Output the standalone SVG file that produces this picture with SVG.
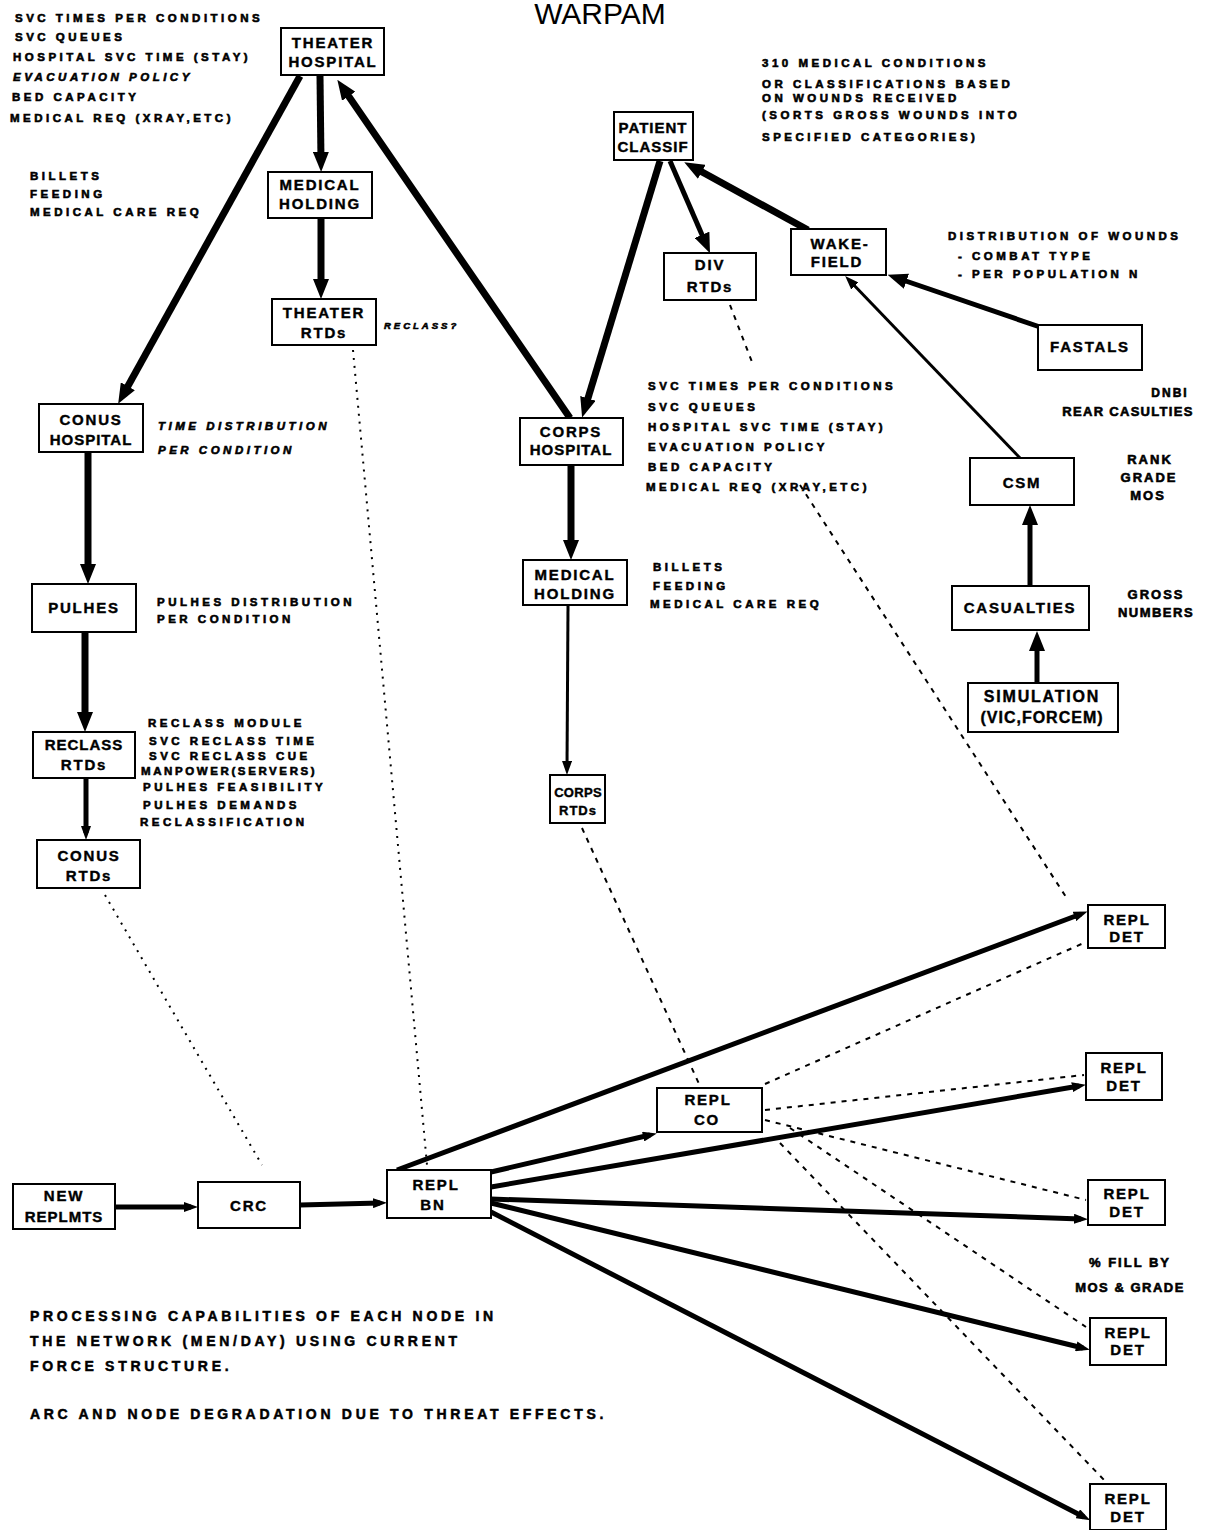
<svg xmlns="http://www.w3.org/2000/svg" width="1217" height="1530" viewBox="0 0 1217 1530">
<style>
.bg{fill:#fff}
.box{fill:#fff;stroke:#000;stroke-width:2}
.nt{font-family:"Liberation Sans",Arial,sans-serif;font-weight:bold;font-size:15px;letter-spacing:1.8px;text-anchor:middle;fill:#000;stroke:#000;stroke-width:0.4}
.an{font-family:"Liberation Sans",Arial,sans-serif;font-weight:bold;font-size:11.5px;letter-spacing:3.5px;fill:#000;stroke:#000;stroke-width:0.6}
.it{font-style:italic}
.bt{font-family:"Liberation Sans",Arial,sans-serif;font-weight:bold;font-size:14px;letter-spacing:3.7px;fill:#000;stroke:#000;stroke-width:0.5}
.title{font-family:"Liberation Sans",Arial,sans-serif;font-size:30px;text-anchor:middle;fill:#000}
.th{stroke:#000;stroke-width:7;fill:none}
.md{stroke:#000;stroke-width:5;fill:none}
.tn{stroke:#000;stroke-width:3;fill:none}
.dot{stroke:#000;stroke-width:2;fill:none;stroke-dasharray:2 6}
.dash{stroke:#000;stroke-width:2;fill:none;stroke-dasharray:5 6}
</style>
<defs>
<marker id="ah" markerUnits="userSpaceOnUse" markerWidth="20" markerHeight="16" refX="10" refY="8" orient="auto"><path d="M0,0 L20,8 L0,16 z" fill="#000"/></marker>
<marker id="ahs" markerUnits="userSpaceOnUse" markerWidth="14" markerHeight="10" refX="7" refY="5" orient="auto"><path d="M0,0 L14,5 L0,10 z" fill="#000"/></marker>
</defs>
<rect class="bg" x="0" y="0" width="1217" height="1530"/>
<text class="title" x="600" y="24">WARPAM</text>

<g id="connectors">
<line class="th" x1="300" y1="76" x2="123" y2="395" marker-end="url(#ah)"/>
<line class="th" x1="320" y1="76" x2="321" y2="162" marker-end="url(#ah)"/>
<line class="th" x1="321" y1="219" x2="321" y2="289" marker-end="url(#ah)"/>
<line class="th" x1="570" y1="418" x2="343" y2="88" marker-end="url(#ah)"/>
<line class="th" x1="660" y1="161" x2="585" y2="408" marker-end="url(#ah)"/>
<line class="md" x1="670" y1="161" x2="706" y2="244" marker-end="url(#ah)"/>
<line class="th" x1="808" y1="230" x2="693" y2="167" marker-end="url(#ah)"/>
<line class="md" x1="1040" y1="327" x2="897" y2="278" marker-end="url(#ah)"/>
<line class="tn" x1="1020" y1="458" x2="850" y2="281" marker-end="url(#ahs)"/>
<line class="md" x1="1030" y1="586" x2="1030" y2="515" marker-end="url(#ah)"/>
<line class="md" x1="1037" y1="683" x2="1037" y2="641" marker-end="url(#ah)"/>
<line class="th" x1="88" y1="453" x2="88" y2="574" marker-end="url(#ah)"/>
<line class="th" x1="85" y1="633" x2="85" y2="722" marker-end="url(#ah)"/>
<line class="md" x1="86" y1="779" x2="86" y2="833" marker-end="url(#ahs)"/>
<line class="th" x1="571" y1="466" x2="571" y2="550" marker-end="url(#ah)"/>
<line class="tn" x1="568" y1="606" x2="567" y2="768" marker-end="url(#ahs)"/>
<line class="md" x1="115" y1="1207" x2="191" y2="1207" marker-end="url(#ahs)"/>
<line class="md" x1="300" y1="1205" x2="380" y2="1203" marker-end="url(#ahs)"/>
<line class="md" x1="397" y1="1170" x2="1081" y2="914" marker-end="url(#ahs)"/>
<line class="md" x1="491" y1="1172" x2="650" y2="1135" marker-end="url(#ahs)"/>
<line class="md" x1="491" y1="1187" x2="1079" y2="1086" marker-end="url(#ahs)"/>
<line class="md" x1="491" y1="1199" x2="1081" y2="1219" marker-end="url(#ahs)"/>
<line class="md" x1="491" y1="1203" x2="1083" y2="1348" marker-end="url(#ahs)"/>
<line class="md" x1="491" y1="1212" x2="1084" y2="1517" marker-end="url(#ahs)"/>
<line class="dot" x1="353" y1="350" x2="427" y2="1165"/>
<line class="dot" x1="105" y1="895" x2="262" y2="1165"/>
<line class="dash" x1="730" y1="305" x2="752" y2="362"/>
<line class="dash" x1="800" y1="485" x2="1066" y2="897"/>
<line class="dash" x1="582" y1="828" x2="700" y2="1086"/>
<line class="dash" x1="765" y1="1084" x2="1086" y2="942"/>
<line class="dash" x1="765" y1="1110" x2="1084" y2="1075"/>
<line class="dash" x1="765" y1="1120" x2="1086" y2="1200"/>
<line class="dash" x1="790" y1="1128" x2="1086" y2="1327"/>
<line class="dash" x1="780" y1="1143" x2="1106" y2="1482"/>
</g>

<g id="theater-hospital"><rect class="box" x="281" y="28" width="103" height="47"/><text class="nt" x="333" y="48">THEATER</text><text class="nt" x="333" y="67">HOSPITAL</text></g>
<g id="theater-medical-holding"><rect class="box" x="268" y="172" width="104" height="46"/><text class="nt" x="320" y="190">MEDICAL</text><text class="nt" x="320" y="209">HOLDING</text></g>
<g id="theater-rtds"><rect class="box" x="272" y="299" width="104" height="46"/><text class="nt" x="324" y="318">THEATER</text><text class="nt" x="324" y="338">RTDs</text></g>
<g id="patient-classif"><rect class="box" x="614" y="112" width="79" height="48"/><text class="nt" x="653" y="133" style="letter-spacing:1px">PATIENT</text><text class="nt" x="653" y="152" style="letter-spacing:1px">CLASSIF</text></g>
<g id="div-rtds"><rect class="box" x="664" y="253" width="92" height="47"/><text class="nt" x="710" y="270">DIV</text><text class="nt" x="710" y="292">RTDs</text></g>
<g id="wakefield"><rect class="box" x="791" y="229" width="95" height="46"/><text class="nt" x="840" y="249">WAKE-</text><text class="nt" x="837" y="267">FIELD</text></g>
<g id="fastals"><rect class="box" x="1038" y="325" width="104" height="45"/><text class="nt" x="1090" y="352">FASTALS</text></g>
<g id="conus-hospital"><rect class="box" x="39" y="404" width="104" height="48"/><text class="nt" x="91" y="425">CONUS</text><text class="nt" x="91" y="445" style="letter-spacing:1px">HOSPITAL</text></g>
<g id="corps-hospital"><rect class="box" x="520" y="418" width="103" height="47"/><text class="nt" x="571" y="437">CORPS</text><text class="nt" x="571" y="455" style="letter-spacing:1px">HOSPITAL</text></g>
<g id="csm"><rect class="box" x="970" y="458" width="104" height="47"/><text class="nt" x="1022" y="488">CSM</text></g>
<g id="pulhes"><rect class="box" x="32" y="584" width="104" height="48"/><text class="nt" x="84" y="613">PULHES</text></g>
<g id="corps-medical-holding"><rect class="box" x="523" y="560" width="104" height="45"/><text class="nt" x="575" y="580">MEDICAL</text><text class="nt" x="575" y="599">HOLDING</text></g>
<g id="casualties"><rect class="box" x="952" y="586" width="137" height="44"/><text class="nt" x="1020" y="613">CASUALTIES</text></g>
<g id="simulation"><rect class="box" x="968" y="683" width="150" height="49"/><text class="nt" x="1042" y="702" style="font-size:16px">SIMULATION</text><text class="nt" x="1042" y="723" style="font-size:16px;letter-spacing:1px">(VIC,FORCEM)</text></g>
<g id="reclass-rtds"><rect class="box" x="33" y="732" width="102" height="46"/><text class="nt" x="84" y="750" style="letter-spacing:1px">RECLASS</text><text class="nt" x="84" y="770">RTDs</text></g>
<g id="corps-rtds"><rect class="box" x="550" y="775" width="55" height="48"/><text class="nt" x="578" y="797" style="font-size:13px;letter-spacing:0.3px">CORPS</text><text class="nt" x="578" y="815" style="font-size:13px;letter-spacing:1px">RTDs</text></g>
<g id="conus-rtds"><rect class="box" x="37" y="840" width="103" height="48"/><text class="nt" x="89" y="861">CONUS</text><text class="nt" x="89" y="881">RTDs</text></g>
<g id="repl-det-1"><rect class="box" x="1088" y="905" width="77" height="43"/><text class="nt" x="1127" y="925">REPL</text><text class="nt" x="1127" y="942">DET</text></g>
<g id="repl-det-2"><rect class="box" x="1086" y="1053" width="76" height="47"/><text class="nt" x="1124" y="1073">REPL</text><text class="nt" x="1124" y="1091">DET</text></g>
<g id="repl-det-3"><rect class="box" x="1088" y="1180" width="77" height="45"/><text class="nt" x="1127" y="1199">REPL</text><text class="nt" x="1127" y="1217">DET</text></g>
<g id="repl-det-4"><rect class="box" x="1090" y="1318" width="76" height="47"/><text class="nt" x="1128" y="1338">REPL</text><text class="nt" x="1128" y="1355">DET</text></g>
<g id="repl-det-5"><rect class="box" x="1090" y="1484" width="76" height="46"/><text class="nt" x="1128" y="1504">REPL</text><text class="nt" x="1128" y="1522">DET</text></g>
<g id="repl-co"><rect class="box" x="657" y="1088" width="105" height="44"/><text class="nt" x="708" y="1105">REPL</text><text class="nt" x="707" y="1125">CO</text></g>
<g id="new-replmts"><rect class="box" x="13" y="1184" width="102" height="45"/><text class="nt" x="64" y="1201">NEW</text><text class="nt" x="64" y="1222" style="letter-spacing:1px">REPLMTS</text></g>
<g id="crc"><rect class="box" x="198" y="1182" width="102" height="46"/><text class="nt" x="249" y="1211">CRC</text></g>
<g id="repl-bn"><rect class="box" x="387" y="1170" width="104" height="48"/><text class="nt" x="436" y="1190">REPL</text><text class="nt" x="433" y="1210">BN</text></g>

<g id="annotations">
<text class="an" x="15" y="22">SVC TIMES PER CONDITIONS</text>
<text class="an" x="15" y="41">SVC QUEUES</text>
<text class="an" x="13" y="61">HOSPITAL SVC TIME (STAY)</text>
<text class="an it" x="13" y="81">EVACUATION POLICY</text>
<text class="an" x="12" y="101">BED CAPACITY</text>
<text class="an" x="10" y="122">MEDICAL REQ (XRAY,ETC)</text>
<text class="an" x="30" y="180">BILLETS</text>
<text class="an" x="30" y="198">FEEDING</text>
<text class="an" x="30" y="216">MEDICAL CARE REQ</text>
<text class="an it" x="384" y="329" style="font-size:9.5px;letter-spacing:3px">RECLASS?</text>
<text class="an it" x="158" y="430">TIME DISTRIBUTION</text>
<text class="an it" x="158" y="454">PER CONDITION</text>
<text class="an" x="157" y="606">PULHES DISTRIBUTION</text>
<text class="an" x="157" y="623">PER CONDITION</text>
<text class="an" x="148" y="727">RECLASS MODULE</text>
<text class="an" x="149" y="745">SVC RECLASS TIME</text>
<text class="an" x="149" y="760">SVC RECLASS CUE</text>
<text class="an" x="141" y="775" style="letter-spacing:2.6px">MANPOWER(SERVERS)</text>
<text class="an" x="143" y="791">PULHES FEASIBILITY</text>
<text class="an" x="143" y="809">PULHES DEMANDS</text>
<text class="an" x="140" y="826">RECLASSIFICATION</text>
<text class="an" x="762" y="67">310 MEDICAL CONDITIONS</text>
<text class="an" x="762" y="88">OR CLASSIFICATIONS BASED</text>
<text class="an" x="762" y="102">ON WOUNDS RECEIVED</text>
<text class="an" x="762" y="119">(SORTS GROSS WOUNDS INTO</text>
<text class="an" x="762" y="141">SPECIFIED CATEGORIES)</text>
<text class="an" x="948" y="240">DISTRIBUTION OF WOUNDS</text>
<text class="an" x="958" y="260">- COMBAT TYPE</text>
<text class="an" x="958" y="278">- PER POPULATION N</text>
<text class="an" x="1170" y="397" style="text-anchor:middle;font-size:12px;letter-spacing:2px">DNBI</text>
<text class="an" x="1128" y="416" style="text-anchor:middle;font-size:13px;letter-spacing:1.3px">REAR CASULTIES</text>
<text class="an" x="1150" y="464" style="text-anchor:middle;font-size:13px;letter-spacing:2px">RANK</text>
<text class="an" x="1149" y="482" style="text-anchor:middle;font-size:13px;letter-spacing:2px">GRADE</text>
<text class="an" x="1148" y="500" style="text-anchor:middle;font-size:13px;letter-spacing:2px">MOS</text>
<text class="an" x="1156" y="599" style="text-anchor:middle;font-size:13px;letter-spacing:2px">GROSS</text>
<text class="an" x="1156" y="617" style="text-anchor:middle;font-size:13px;letter-spacing:1.5px">NUMBERS</text>
<text class="an" x="648" y="390">SVC TIMES PER CONDITIONS</text>
<text class="an" x="648" y="411">SVC QUEUES</text>
<text class="an" x="648" y="431">HOSPITAL SVC TIME (STAY)</text>
<text class="an" x="648" y="451">EVACUATION POLICY</text>
<text class="an" x="648" y="471">BED CAPACITY</text>
<text class="an" x="646" y="491">MEDICAL REQ (XRAY,ETC)</text>
<text class="an" x="653" y="571">BILLETS</text>
<text class="an" x="653" y="590">FEEDING</text>
<text class="an" x="650" y="608">MEDICAL CARE REQ</text>
<text class="an" x="1130" y="1267" style="text-anchor:middle;font-size:13px;letter-spacing:2px">% FILL BY</text>
<text class="an" x="1130" y="1292" style="text-anchor:middle;font-size:13px;letter-spacing:1.5px">MOS &amp; GRADE</text>
<text class="bt" x="30" y="1321">PROCESSING CAPABILITIES OF EACH NODE IN</text>
<text class="bt" x="30" y="1346">THE NETWORK (MEN/DAY) USING CURRENT</text>
<text class="bt" x="30" y="1371">FORCE STRUCTURE.</text>
<text class="bt" x="30" y="1419">ARC AND NODE DEGRADATION DUE TO THREAT EFFECTS.</text>
</g>
</svg>
